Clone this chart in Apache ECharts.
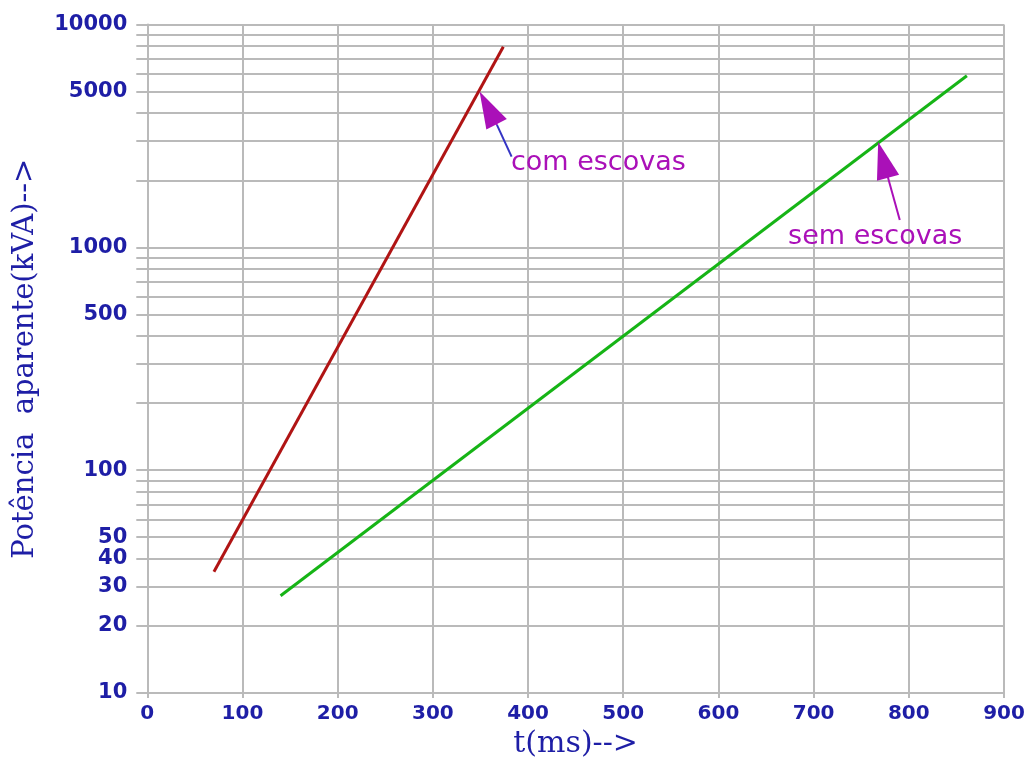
<!DOCTYPE html>
<html>
<head>
<meta charset="utf-8">
<script src="https://cdn.jsdelivr.net/npm/echarts@6/dist/echarts.min.js"></script>
<style>html,body{margin:0;padding:0;background:#fff;}#c{width:1029px;height:767px;}</style>
</head>
<body>
<div id="c"></div>
<script>
// ---- data ----
const comEscovasT = [70, 374];
const comEscovasP = [35, 7950];
const semEscovasT = [140, 861];
const semEscovasP = [27.3, 5890];

const xTicks = [0, 100, 200, 300, 400, 500, 600, 700, 800, 900];
const yGridValues = [10, 20, 30, 40, 50, 60, 70, 80, 90,
  100, 200, 300, 400, 500, 600, 700, 800, 900,
  1000, 2000, 3000, 4000, 5000, 6000, 7000, 8000, 9000, 10000];
const yLabelValues = [10, 20, 30, 40, 50, 100, 500, 1000, 5000, 10000];

const xTitle = 't(ms)-->';
const yTitle = 'Potência  aparente(kVA)-->';
const comLabel = 'com escovas';
const semLabel = 'sem escovas';

// annotation anchors (data coords)
const comShaft = [[382.7, 2553], [367.3, 3543]];
const comHead = [[367.3, 3543], [358.0, 4228]];
const comText = [382, 2392];
const semShaft = [[790.5, 1327], [773.0, 2468]];
const semText = [673.2, 1113];

const BLUE = '#1e1ea6';
const PURPLE = '#aa10b8';
const GRID = '#bababa';

const chart = echarts.init(document.getElementById('c'));
chart.setOption({
  animation: false,
  backgroundColor: '#ffffff',
  grid: { left: 147.3, right: 25, top: 24.5, bottom: 74, containLabel: false },
  xAxis: {
    type: 'value', min: 0, max: 900, interval: 100,
    name: xTitle, nameLocation: 'middle', nameGap: 34,
    nameTextStyle: { fontFamily: 'DejaVu Serif', fontSize: 30, color: BLUE },
    axisLine: { show: true, lineStyle: { color: GRID, width: 2 } },
    axisTick: { show: true, inside: false, length: 5, lineStyle: { color: GRID, width: 2 } },
    axisLabel: { color: BLUE, fontFamily: 'DejaVu Sans', fontWeight: 'bold', fontSize: 20, margin: 11,
      customValues: xTicks, formatter: v => String(v) },
    splitLine: { show: true, lineStyle: { color: GRID, width: 2 } }
  },
  yAxis: {
    type: 'log', logBase: 10, min: 10, max: 10000,
    name: yTitle, nameLocation: 'middle', nameGap: 107,
    nameTextStyle: { fontFamily: 'DejaVu Serif', fontSize: 29, color: BLUE },
    axisLine: { show: true, lineStyle: { color: GRID, width: 2 } },
    axisTick: { show: true, inside: false, length: 11, lineStyle: { color: GRID, width: 2 },
      customValues: yGridValues },
    axisLabel: { color: BLUE, fontFamily: 'DejaVu Sans', fontWeight: 'bold', fontSize: 21, margin: 20,
      customValues: yLabelValues, formatter: v => String(Math.round(v)) },
    splitLine: { show: true, lineStyle: { color: GRID, width: 2 } }
  },
  series: [
    {
      name: comLabel, type: 'line', symbol: 'none',
      data: comEscovasT.map((t, i) => [t, comEscovasP[i]]),
      lineStyle: { color: '#b01414', width: 3 },
      markLine: {
        silent: true, animation: false,
        data: [
          [{ coord: comShaft[0], symbol: 'none', lineStyle: { color: '#3434c4', width: 2, type: 'solid' } },
           { coord: comShaft[1], symbol: 'none' }],
          [{ coord: comHead[0], symbol: 'none', lineStyle: { color: PURPLE, width: 2, type: 'solid' } },
           { coord: comHead[1], symbol: 'triangle', symbolSize: [23, 37] }]
        ],
        label: { show: false }
      },
      markPoint: {
        silent: true, symbol: 'circle', symbolSize: 0,
        data: [{ coord: comText, value: comLabel }],
        label: { show: true, position: 'right', distance: 0, formatter: comLabel,
          color: PURPLE, fontFamily: 'DejaVu Sans', fontSize: 27 }
      }
    },
    {
      name: semLabel, type: 'line', symbol: 'none',
      data: semEscovasT.map((t, i) => [t, semEscovasP[i]]),
      lineStyle: { color: '#16b416', width: 3 },
      markLine: {
        silent: true, animation: false,
        data: [
          [{ coord: semShaft[0], symbol: 'none', lineStyle: { color: PURPLE, width: 2, type: 'solid' } },
           { coord: semShaft[1], symbol: 'triangle', symbolSize: [23, 37] }]
        ],
        label: { show: false }
      },
      markPoint: {
        silent: true, symbol: 'circle', symbolSize: 0,
        data: [{ coord: semText, value: semLabel }],
        label: { show: true, position: 'right', distance: 0, formatter: semLabel,
          color: PURPLE, fontFamily: 'DejaVu Sans', fontSize: 27 }
      }
    }
  ]
});
</script>
</body>
</html>
